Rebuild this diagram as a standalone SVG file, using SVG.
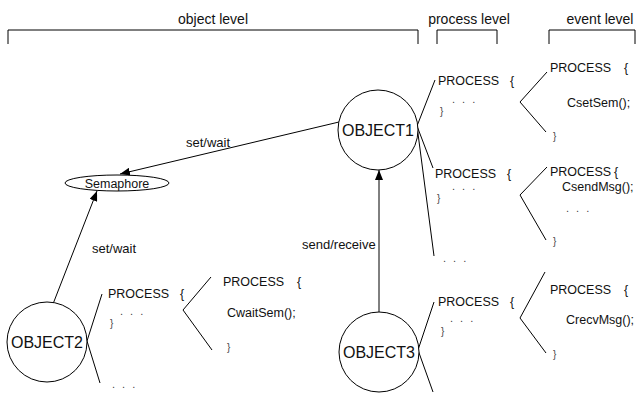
<svg xmlns="http://www.w3.org/2000/svg" width="636" height="393" viewBox="0 0 636 393">
  <style>
    text { font-family: "Liberation Sans", Arial, sans-serif; fill: #111; }
    .hdr { font-size: 14px; }
    .obj { font-size: 16px; text-anchor: middle; }
    .lbl { font-size: 13px; }
    .code { font-size: 12.5px; }
    .dots { font-size: 11px; letter-spacing: 2px; fill: #444; }
    .brace { font-size: 10px; fill: #444; }
    .ln { stroke: #000; stroke-width: 1; fill: none; }
    .shape { stroke: #000; stroke-width: 1; fill: #fff; }
  </style>
  <defs>
    <marker id="arrow" viewBox="0 0 10 8" refX="10" refY="4" markerWidth="10" markerHeight="8" markerUnits="userSpaceOnUse" orient="auto">
      <path d="M0,0 L10,4 L0,8 z" fill="#000"/>
    </marker>
  </defs>

  <!-- level headings with brackets -->
  <g id="headings">
    <text class="hdr" x="213" y="24" text-anchor="middle">object level</text>
    <path class="ln" d="M8,44 V30 H418 V44"/>
    <text class="hdr" x="469" y="24" text-anchor="middle">process level</text>
    <path class="ln" d="M437,44 V30 H497 V44"/>
    <text class="hdr" x="600" y="24" text-anchor="middle">event level</text>
    <path class="ln" d="M549,44 V30 H635 V44"/>
  </g>

  <!-- connectors -->
  <g id="connectors">
    <line class="ln" x1="339" y1="122" x2="120" y2="174" marker-end="url(#arrow)"/>
    <line class="ln" x1="53" y1="304" x2="97" y2="191" marker-end="url(#arrow)"/>
    <line class="ln" x1="379" y1="312" x2="379" y2="170" marker-end="url(#arrow)"/>
    <!-- OBJECT1 fan-out -->
    <polyline class="ln" points="435,80 417,126 433,168"/>
    <line class="ln" x1="417" y1="126" x2="434" y2="256"/>
    <!-- OBJECT2 fan-out -->
    <polyline class="ln" points="102,294 87,341 100,383"/>
    <!-- OBJECT3 fan-out -->
    <polyline class="ln" points="434,302 418,350 433,392"/>
    <!-- process to event angles -->
    <polyline class="ln" points="547,72 520,102 546,132"/>
    <polyline class="ln" points="547,167 520,195 546,240"/>
    <polyline class="ln" points="545,272 520,318 546,353"/>
    <polyline class="ln" points="211,277 183,310 212,350"/>
  </g>

  <!-- edge labels -->
  <g id="labels">
    <text class="lbl" x="186" y="147">set/wait</text>
    <text class="lbl" x="92" y="253">set/wait</text>
    <text class="lbl" x="302" y="249">send/receive</text>
  </g>

  <g id="semaphore">
    <ellipse class="shape" cx="117" cy="183" rx="52" ry="8"/>
    <text class="code" x="117" y="187.5" text-anchor="middle">Semaphore</text>
  </g>

  <g id="object1">
    <circle class="shape" cx="378" cy="130" r="40"/>
    <text class="obj" x="378" y="136">OBJECT1</text>
  </g>
  <g id="object2">
    <circle class="shape" cx="47" cy="342" r="40"/>
    <text class="obj" x="47" y="348">OBJECT2</text>
  </g>
  <g id="object3">
    <circle class="shape" cx="379" cy="352" r="40"/>
    <text class="obj" x="379" y="358">OBJECT3</text>
  </g>

  <!-- process level blocks -->
  <g id="process1">
    <text class="code" x="438" y="85">PROCESS<tspan x="510">{</tspan></text>
    <text class="dots" x="452" y="103">. . .</text>
    <text class="brace" x="440" y="115">}</text>
  </g>
  <g id="process2">
    <text class="code" x="435" y="178">PROCESS<tspan x="507">{</tspan></text>
    <text class="dots" x="452" y="190">. . .</text>
    <text class="brace" x="437" y="202">}</text>
  </g>
  <g id="process-more1">
    <text class="dots" x="443" y="262">. . .</text>
  </g>
  <g id="process3">
    <text class="code" x="438" y="306">PROCESS<tspan x="510">{</tspan></text>
    <text class="dots" x="450" y="322">. . .</text>
    <text class="brace" x="441" y="335">}</text>
  </g>
  <g id="process4">
    <text class="code" x="108" y="298">PROCESS<tspan x="180">{</tspan></text>
    <text class="dots" x="120" y="315">. . .</text>
    <text class="brace" x="110" y="327">}</text>
  </g>
  <g id="process-more2">
    <text class="dots" x="112" y="388">. . .</text>
  </g>

  <!-- event level blocks -->
  <g id="event-setsem">
    <text class="code" x="550" y="72">PROCESS<tspan x="624">{</tspan></text>
    <text class="code" x="567" y="107">CsetSem();</text>
    <text class="brace" x="553" y="140">}</text>
  </g>
  <g id="event-sendmsg">
    <text class="code" x="550" y="176">PROCESS<tspan x="614">{</tspan></text>
    <text class="code" x="562" y="191">CsendMsg();</text>
    <text class="dots" x="566" y="212">. . .</text>
    <text class="brace" x="553" y="245">}</text>
  </g>
  <g id="event-recvmsg">
    <text class="code" x="550" y="294">PROCESS<tspan x="624">{</tspan></text>
    <text class="code" x="566" y="324">CrecvMsg();</text>
    <text class="brace" x="553" y="358">}</text>
  </g>
  <g id="event-waitsem">
    <text class="code" x="223" y="286">PROCESS<tspan x="297">{</tspan></text>
    <text class="code" x="227" y="317">CwaitSem();</text>
    <text class="brace" x="227" y="351">}</text>
  </g>
</svg>
